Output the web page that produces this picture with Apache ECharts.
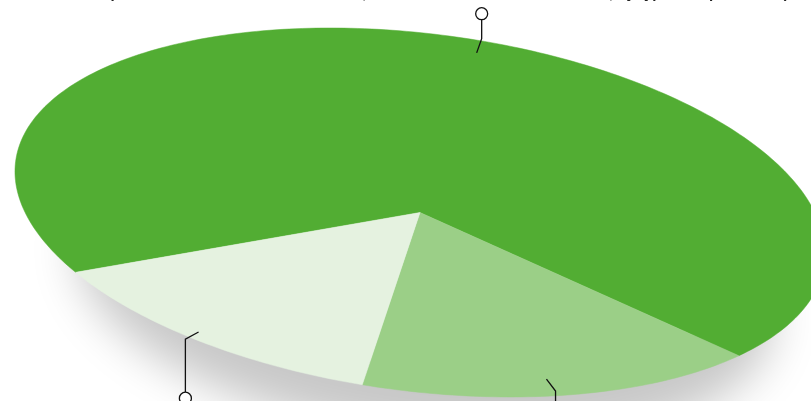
<!DOCTYPE html>
<html><head><meta charset="utf-8">
<script src="https://cdn.jsdelivr.net/npm/echarts/dist/echarts.min.js"></script>
<style>html,body{margin:0;padding:0;background:#fff}#c{width:811px;height:401px}</style>
</head><body><div id="c"></div>
<script>
// ---- data ----
const categories = ['Health care', 'Social care', 'Productivity losses'];
const values = [69.4, 16.7, 13.9];
const titleText = 'Total expenditure on health and social care, attributable to chronic conditions, by type of expenditure (% of total, pooled)';

// ---- styling / layout (not data) ----
const colors = ['#52ad33', '#9bcf87', '#e5f2e0'];
const CX = 420, CY = 212.5;            // pie centre
const AX = 394.9, SK = 90, AY = 184.5; // tilted ellipse (affine image of the circle)
const START = 161.07;                  // start angle, degrees clockwise from east
const leaderDir = [-1, 1, 1];          // -1 up, 1 down
const leaderLen = [19, 30, 53];
const leaderShift = [5.5, 1.8, 1.5];   // perspective nudge of the anchor, degrees
const leaderR = [0.93, 0.91, 0.96];

const total = values.reduce((a, b) => a + b, 0);
function pt(deg, r) {
  const t = deg * Math.PI / 180, c = Math.cos(t), s = Math.sin(t);
  return [CX + r * (AX * c + SK * s), CY + r * AY * s];
}

function renderItem(params, api) {
  const i = params.dataIndex;
  let acc = 0;
  for (let j = 0; j < i; j++) acc += values[j];
  const v = api.value(0);
  const a0 = START + acc / total * 360;
  const a1 = a0 + v / total * 360;
  const children = [];
  if (i === 0) {
    const ell = [];
    for (let d = 0; d < 360; d += 2) ell.push(pt(d, 0.86));
    children.push({
      type: 'polygon', z2: 0, shape: { points: ell },
      style: { fill: '#ffffff', shadowBlur: 45, shadowColor: 'rgba(0,0,0,0.22)', shadowOffsetY: 72, shadowOffsetX: 5 }
    });
  }
  const pts = [[CX, CY]];
  const steps = Math.max(2, Math.ceil(a1 - a0));
  for (let k = 0; k <= steps; k++) pts.push(pt(a0 + (a1 - a0) * k / steps, 1));
  children.push({
    type: 'polygon', z2: 5, shape: { points: pts },
    style: { fill: colors[i], stroke: colors[i], lineWidth: 0.5 }
  });
  // leader line
  const mid = (a0 + a1) / 2 + leaderShift[i];
  const p0 = pt(mid, leaderR[i]);
  const dx = p0[0] - CX, dy = p0[1] - CY, L = Math.hypot(dx, dy);
  const p1 = [p0[0] + dx / L * 15, p0[1] + dy / L * 15];
  const p2 = [p1[0], p1[1] + leaderDir[i] * leaderLen[i]];
  const pc = [p2[0], p2[1] + leaderDir[i] * 6];
  children.push({
    type: 'polyline', z2: 10, shape: { points: [p0, p1, p2] },
    style: { stroke: '#111', lineWidth: 1.3, fill: null }
  });
  children.push({
    type: 'circle', z2: 11, shape: { cx: pc[0], cy: pc[1], r: 6 },
    style: { fill: '#fff', stroke: '#111', lineWidth: 1.3 }
  });
  return { type: 'group', children };
}

const chart = echarts.init(document.getElementById('c'), null, { renderer: 'canvas' });
chart.setOption({
  animation: false,
  backgroundColor: '#fff',
  title: {
    text: titleText, left: 50, top: -19,
    textStyle: { fontFamily: 'Liberation Sans', fontWeight: 'bold', fontSize: 15, color: '#222' }
  },
  series: [{
    type: 'custom',
    coordinateSystem: 'none',
    renderItem: renderItem,
    data: values.map((v, i) => ({ name: categories[i], value: [v] }))
  }]
});
</script></body></html>
